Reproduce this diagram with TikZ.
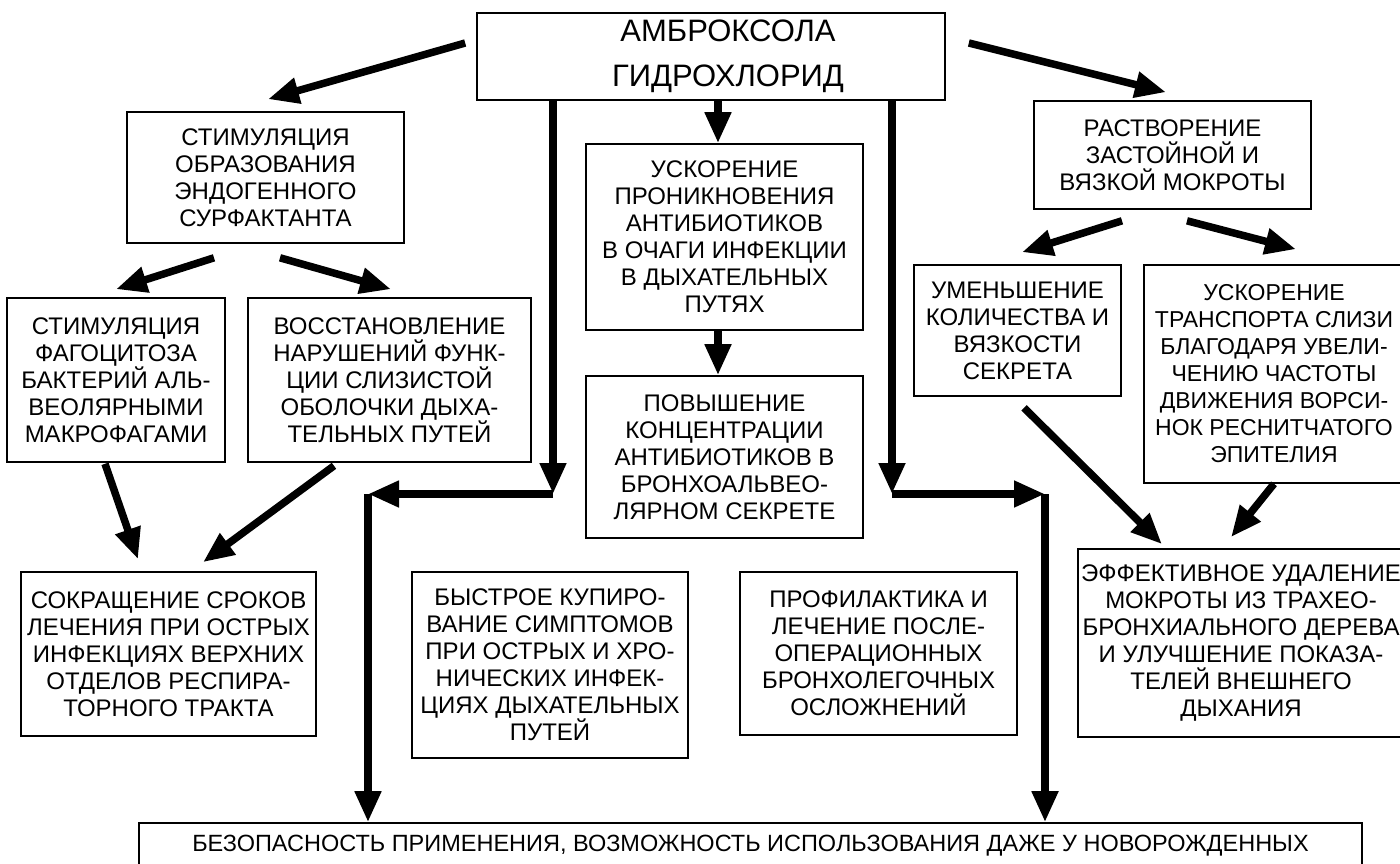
\documentclass[tikz,border=0pt]{standalone}
\usepackage{fontspec}
\setmainfont{Liberation Sans}
\usetikzlibrary{arrows.meta, positioning, calc}

\begin{document}
\begin{tikzpicture}[x=1pt, y=-1pt,
    blockbox/.style={draw, line width=1.6pt, align=center, inner sep=0pt,
          font=\fontsize{24}{27}\selectfont},
    fatarrow/.style={line width=7.5pt, -{Triangle[length=31pt, width=25pt]}}]
    \clip (0,0) rectangle (1400,863);
    \fill[white] (0,0) rectangle (1400,863);

    \node[blockbox, minimum width=468pt, minimum height=87pt,
          font=\fontsize{31}{45}\selectfont] (top) at (711,56.5)
        {\hspace*{34pt}АМБРОКСОЛА\\\hspace*{34pt}ГИДРОХЛОРИД};

    \node[blockbox, minimum width=277pt, minimum height=131pt] (stim) at (265.5,177.5)
        {СТИМУЛЯЦИЯ\\ОБРАЗОВАНИЯ\\ЭНДОГЕННОГО\\СУРФАКТАНТА};
    \node[blockbox, minimum width=218pt, minimum height=164pt] (fag) at (116,380)
        {СТИМУЛЯЦИЯ\\ФАГОЦИТОЗА\\БАКТЕРИЙ АЛЬ-\\ВЕОЛЯРНЫМИ\\МАКРОФАГАМИ};
    \node[blockbox, minimum width=283pt, minimum height=164pt] (vos) at (389.5,380)
        {ВОССТАНОВЛЕНИЕ\\НАРУШЕНИЙ ФУНК-\\ЦИИ СЛИЗИСТОЙ\\ОБОЛОЧКИ ДЫХА-\\ТЕЛЬНЫХ ПУТЕЙ};
    \node[blockbox, minimum width=295pt, minimum height=164pt] (sokr) at (168.5,654)
        {СОКРАЩЕНИЕ СРОКОВ\\ЛЕЧЕНИЯ ПРИ ОСТРЫХ\\ИНФЕКЦИЯХ ВЕРХНИХ\\ОТДЕЛОВ РЕСПИРА-\\ТОРНОГО ТРАКТА};

    \node[blockbox, minimum width=277pt, minimum height=186pt] (pen) at (724.5,237)
        {УСКОРЕНИЕ\\ПРОНИКНОВЕНИЯ\\АНТИБИОТИКОВ\\В ОЧАГИ ИНФЕКЦИИ\\В ДЫХАТЕЛЬНЫХ\\ПУТЯХ};
    \node[blockbox, minimum width=277pt, minimum height=162pt] (conc) at (724.5,457)
        {ПОВЫШЕНИЕ\\КОНЦЕНТРАЦИИ\\АНТИБИОТИКОВ В\\БРОНХОАЛЬВЕО-\\ЛЯРНОМ СЕКРЕТЕ};
    \node[blockbox, minimum width=276pt, minimum height=186pt] (bys) at (550,665)
        {БЫСТРОЕ КУПИРО-\\ВАНИЕ СИМПТОМОВ\\ПРИ ОСТРЫХ И ХРО-\\НИЧЕСКИХ ИНФЕК-\\ЦИЯХ ДЫХАТЕЛЬНЫХ\\ПУТЕЙ};
    \node[blockbox, minimum width=277pt, minimum height=163pt] (prof) at (878.5,653.5)
        {ПРОФИЛАКТИКА И\\ЛЕЧЕНИЕ ПОСЛЕ-\\ОПЕРАЦИОННЫХ\\БРОНХОЛЕГОЧНЫХ\\ОСЛОЖНЕНИЙ};

    \node[blockbox, minimum width=277pt, minimum height=108pt] (rast) at (1172.5,155)
        {РАСТВОРЕНИЕ\\ЗАСТОЙНОЙ И\\ВЯЗКОЙ МОКРОТЫ};
    \node[blockbox, minimum width=207pt, minimum height=131pt] (umen) at (1017.5,330.5)
        {УМЕНЬШЕНИЕ\\КОЛИЧЕСТВА И\\ВЯЗКОСТИ\\СЕКРЕТА};
    \node[blockbox, minimum width=260pt, minimum height=218pt,
          font=\fontsize{23}{27}\selectfont] (trans) at (1274,374)
        {УСКОРЕНИЕ\\ТРАНСПОРТА СЛИЗИ\\БЛАГОДАРЯ УВЕЛИ-\\ЧЕНИЮ ЧАСТОТЫ\\ДВИЖЕНИЯ ВОРСИ-\\НОК РЕСНИТЧАТОГО\\ЭПИТЕЛИЯ};
    \node[blockbox, minimum width=326pt, minimum height=188pt] (eff) at (1241,643)
        {ЭФФЕКТИВНОЕ УДАЛЕНИЕ\\МОКРОТЫ ИЗ ТРАХЕО-\\БРОНХИАЛЬНОГО ДЕРЕВА\\И УЛУЧШЕНИЕ ПОКАЗА-\\ТЕЛЕЙ ВНЕШНЕГО\\ДЫХАНИЯ};

    \node[blockbox, minimum width=1223pt, minimum height=45pt,
          font=\fontsize{23.5}{27}\selectfont] (bez) at (750.5,845.5)
        {БЕЗОПАСНОСТЬ ПРИМЕНЕНИЯ, ВОЗМОЖНОСТЬ ИСПОЛЬЗОВАНИЯ ДАЖЕ У НОВОРОЖДЕННЫХ};

    % arrows
    \draw[fatarrow] ([shift={(-11,-13.5)}]top.west) -- ([shift={(2.5,-12)}]stim.north);
    \draw[fatarrow] ([shift={(23,-13.5)}]top.east) -- ([shift={(-6.5,-8)}]rast.north);
    \draw[fatarrow] ([shift={(7,0)}]top.south) -- ([shift={(-6.5,0)}]pen.north);
    \draw[fatarrow] ([shift={(-6.5,0)}]pen.south) -- ([shift={(-6.5,0)}]conc.north);

    \draw[fatarrow] ([shift={(-51.5,14)}]stim.south) -- ([shift={(0,-8)}]fag.north);
    \draw[fatarrow] ([shift={(14.5,14)}]stim.south) -- ([shift={(1.5,-8)}]vos.north);
    \draw[fatarrow] ([shift={(-11,1)}]fag.south) -- ([shift={(-30.5,-12)}]sokr.north);
    \draw[fatarrow] ([shift={(-55.5,3)}]vos.south) -- ([shift={(34.5,-9)}]sokr.north);

    \draw[fatarrow] ([shift={(-50.5,11)}]rast.south) -- ([shift={(4.5,-12)}]umen.north);
    \draw[fatarrow] ([shift={(14.5,11)}]rast.south) -- ([shift={(22,-15)}]trans.north);
    \draw[fatarrow] ([shift={(6.5,11)}]umen.south) -- ([shift={(-79,-4)}]eff.north);
    \draw[fatarrow] ([shift={(0,0)}]trans.south) -- ([shift={(-10,-11)}]eff.north);

    \coordinate (lbend) at (553,494);
    \coordinate (lturn) at (368,494);
    \coordinate (rbend) at (892,494);
    \coordinate (rturn) at (1045,494);
    \draw[fatarrow] (top.south -| lbend) -- (lbend);
    \draw[fatarrow] (lbend) -- (lturn);
    \draw[fatarrow] (lturn) -- (lturn |- bez.north);
    \draw[fatarrow] (top.south -| rbend) -- (rbend);
    \draw[fatarrow] (rbend) -- (rturn);
    \draw[fatarrow] (rturn) -- (rturn |- bez.north);
\end{tikzpicture}
\end{document}
